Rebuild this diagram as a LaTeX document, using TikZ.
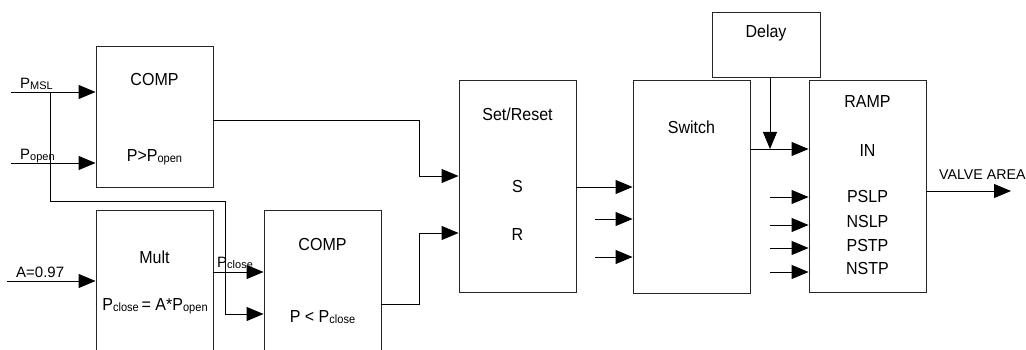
\documentclass[tikz,border=0pt]{standalone}
\usepackage{fontspec}
\setmainfont{Liberation Sans}
\newfontfamily\condfont{Liberation Sans}[FakeStretch=0.92]
\usetikzlibrary{arrows.meta}
\newcommand\lowsub[1]{\raisebox{-1.4pt}{\fontsize{12}{12}\selectfont #1}}
\newcommand\lowsubs[1]{\raisebox{-1pt}{\fontsize{11}{11}\selectfont #1}}
\tikzset{
  blk/.style={draw=black!85, line width=0.9pt, minimum width=117pt, inner sep=0pt},
  txt/.style={inner sep=0pt, font=\condfont\fontsize{17.4}{17.4}\selectfont},
  lbl/.style={inner sep=0pt, font=\fontsize{15}{15}\selectfont},
  wire/.style={line width=0.9pt, black},
  arr/.style={wire, -{Triangle[length=17pt,width=14pt]}},
}
\begin{document}
\begin{tikzpicture}[x=1pt,y=-1pt]
\useasboundingbox (0,0) rectangle (1026,350);
\clip (0,0) rectangle (1026,350);
% blocks
\node[blk, minimum height=141pt] (comp1) at (154.5,116.5) {};
\node[blk, minimum height=160pt] (mult) at (154.5,290) {};
\node[blk, minimum height=160pt] (comp2) at (322.5,290) {};
\node[blk, minimum height=212pt] (sr) at (517.5,186) {};
\node[blk, minimum height=213pt] (sw) at (691.5,186.5) {};
\node[blk, minimum width=108pt, minimum height=65pt] (delay) at (766,44.5) {};
\node[blk, minimum height=212pt] (ramp) at (867.5,186) {};
% block texts
\node[txt] (t1) at (154.5,80) {COMP};
\node[txt] (t2) at (154.5,157) {P>P\lowsub{open}};
\node[txt] (t3) at (154.5,257) {Mult};
\node[txt] (t4) at (155,306) {P\lowsub{close}\,= A*P\lowsub{open}};
\node[txt] (t5) at (322.5,245) {COMP};
\node[txt] (t6) at (322.5,317) {P < P\lowsub{close}};
\node[txt] (t7) at (517.5,114) {Set/Reset};
\node[txt] (t8) at (517.5,187) {S};
\node[txt] (t9) at (517.5,235) {R};
\node[txt] (t10) at (691.5,127) {Switch};
\node[txt] (t11) at (766,33) {Delay};
\node[txt] (t12) at (867.5,102) {RAMP};
\node[txt] (t13) at (867.5,151) {IN};
\node[txt] (t14) at (867.5,197) {PSLP};
\node[txt] (t15) at (867.5,222) {NSLP};
\node[txt] (t16) at (867.5,246) {PSTP};
\node[txt] (t17) at (867.5,269) {NSTP};
% coordinates
\coordinate (pmsl) at (11,92);
\coordinate (popen) at (11,163);
\coordinate (br) at (50,92);
\coordinate (br1) at (50,201);
\coordinate (br2) at (225,201);
\coordinate (br3) at (225,314);
\coordinate (ain) at (7,281);
\coordinate (c1a) at (419,120);
\coordinate (c1b) at (419,176);
\coordinate (c2a) at (419,304);
\coordinate (c2b) at (419,233);
\coordinate (swi1) at (595,219);
\coordinate (swi2) at (595,257);
\coordinate (dl) at (770,149);
\coordinate (ri1) at (770,197);
\coordinate (ri2) at (770,225);
\coordinate (ri3) at (770,248);
\coordinate (ri4) at (770,272);
\coordinate (vout) at (1011,191);
% labels
\node[lbl, anchor=base west] (lmsl) at (20,89) {P\lowsubs{MSL}};
\node[lbl, anchor=base west] (lopen) at (20,160) {P\lowsubs{open}};
\node[lbl, anchor=base west] (la) at (16,277) {A=0.97};
\node[lbl, anchor=base west] (lclose) at (217,267) {P\lowsubs{close}};
\node[lbl, anchor=base west, font=\fontsize{14.2}{14.2}\selectfont] (lva) at (939,180) {VALVE AREA};
% connectors
\draw[arr] (pmsl) -- (comp1.west |- pmsl);
\draw[arr] (popen) -- (comp1.west |- popen);
\draw[arr] (br) -- (br1) -- (br2) -- (br3) -- (comp2.west |- br3);
\draw[arr] (ain) -- (mult.west |- ain);
\draw[arr] (mult.east |- 0,272) -- (comp2.west |- 0,272);
\draw[arr] (comp1.east |- c1a) -- (c1a) -- (c1b) -- (sr.west |- c1b);
\draw[arr] (comp2.east |- c2a) -- (c2a) -- (c2b) -- (sr.west |- c2b);
\draw[arr] (sr.east |- 0,187) -- (sw.west |- 0,187);
\draw[arr] (swi1) -- (sw.west |- swi1);
\draw[arr] (swi2) -- (sw.west |- swi2);
\draw[arr] (sw.east |- dl) -- (ramp.west |- dl);
\draw[arr] (delay.south -| dl) -- (dl);
\draw[arr] (ri1) -- (ramp.west |- ri1);
\draw[arr] (ri2) -- (ramp.west |- ri2);
\draw[arr] (ri3) -- (ramp.west |- ri3);
\draw[arr] (ri4) -- (ramp.west |- ri4);
\draw[arr] (ramp.east |- vout) -- (vout);
\end{tikzpicture}
\end{document}
